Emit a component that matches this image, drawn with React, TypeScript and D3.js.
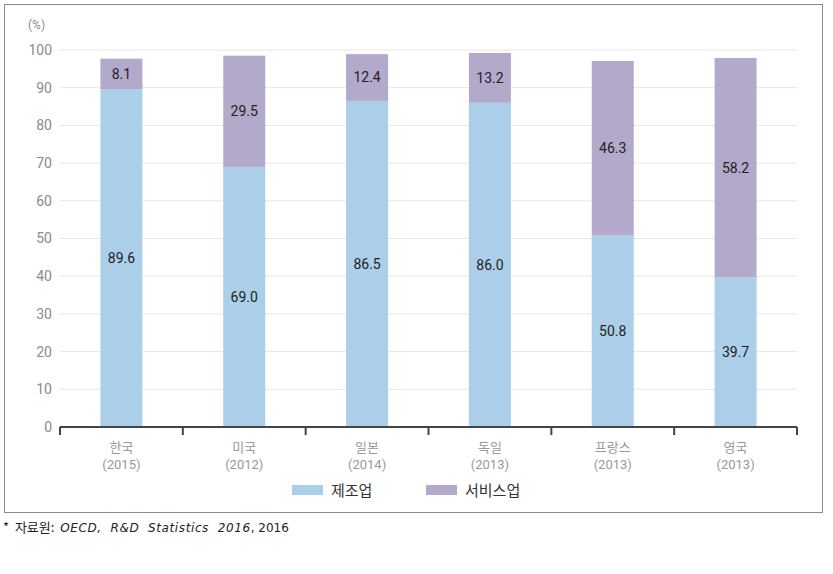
import React, { useEffect, useRef } from 'react';
import * as d3 from 'd3';

const countries = ['한국', '미국', '일본', '독일', '프랑스', '영국'];
const years = ['(2015)', '(2012)', '(2014)', '(2013)', '(2013)', '(2013)'];
const manufacturing = [89.6, 69.0, 86.5, 86.0, 50.8, 39.7];
const services = [8.1, 29.5, 12.4, 13.2, 46.3, 58.2];
const yTicks = [0, 10, 20, 30, 40, 50, 60, 70, 80, 90, 100];
const seriesNames = ['제조업', '서비스업'];

const W = 833;
const H = 574;
const BLUE = '#abcfe9';
const PURPLE = '#b2a9cb';
const KR = '"Noto Sans CJK KR", "Noto Sans", sans-serif';
const NUM = '"Liberation Sans Narrow", Roboto, "DejaVu Sans Condensed", sans-serif';

const App = () => {
  const svgRef = useRef<SVGSVGElement | null>(null);

  useEffect(() => {
    if (!svgRef.current) return;
    const svg = d3.select(svgRef.current);
    svg.selectAll('*').remove();

    // frame
    svg.append('rect')
      .attr('x', 4.5).attr('y', 4.5)
      .attr('width', 818).attr('height', 508)
      .attr('fill', '#fff').attr('stroke', '#8c8c8c').attr('stroke-width', 1);

    const left = 60;
    const right = 797;
    const x = d3.scaleBand().domain(countries).range([left, right]).paddingInner(0).paddingOuter(0);
    const y = d3.scaleLinear().domain([0, 100]).range([427, 50]);
    const barW = 42;

    // gridlines
    svg.append('g').selectAll('line')
      .data(yTicks.filter(t => t > 0))
      .join('line')
      .attr('x1', left).attr('x2', right)
      .attr('y1', d => y(d)).attr('y2', d => y(d))
      .attr('stroke', '#e6e6e6').attr('stroke-width', 1);

    // y tick labels
    svg.append('g').selectAll('text')
      .data(yTicks)
      .join('text')
      .attr('x', 52).attr('y', d => y(d))
      .attr('dy', '0.35em')
      .attr('text-anchor', 'end')
      .attr('font-family', NUM).attr('font-size', 14)
      .attr('fill', '#8a8a8a')
      .text(d => d);

    svg.append('text')
      .attr('x', 28).attr('y', 29)
      .attr('font-family', NUM).attr('font-size', 12)
      .attr('fill', '#8a8a8a')
      .text('(%)');

    const rows = countries.map((c, i) => ({ c, m: manufacturing[i], s: services[i] }));
    const cx = (c: string) => (x(c) as number) + x.bandwidth() / 2;

    const bars = svg.append('g');
    bars.selectAll('rect.m')
      .data(rows)
      .join('rect')
      .attr('class', 'm')
      .attr('x', d => cx(d.c) - barW / 2)
      .attr('width', barW)
      .attr('y', d => y(d.m))
      .attr('height', d => y(0) - y(d.m))
      .attr('fill', BLUE);
    bars.selectAll('rect.s')
      .data(rows)
      .join('rect')
      .attr('class', 's')
      .attr('x', d => cx(d.c) - barW / 2)
      .attr('width', barW)
      .attr('y', d => y(d.m + d.s))
      .attr('height', d => y(d.m) - y(d.m + d.s))
      .attr('fill', PURPLE);

    // value labels
    const labels = svg.append('g')
      .attr('font-family', NUM).attr('font-size', 14)
      .attr('fill', '#222').attr('text-anchor', 'middle');
    labels.selectAll('text.m')
      .data(rows)
      .join('text')
      .attr('class', 'm')
      .attr('x', d => cx(d.c))
      .attr('y', d => y(d.m / 2))
      .attr('dy', '0.35em')
      .text(d => d.m.toFixed(1));
    labels.selectAll('text.s')
      .data(rows)
      .join('text')
      .attr('class', 's')
      .attr('x', d => cx(d.c))
      .attr('y', d => y(d.m + d.s / 2))
      .attr('dy', '0.35em')
      .text(d => d.s.toFixed(1));

    // x axis
    const axis = svg.append('g').attr('stroke', '#444').attr('stroke-width', 2);
    axis.append('line')
      .attr('x1', left).attr('x2', right)
      .attr('y1', y(0)).attr('y2', y(0));
    const bounds = countries.map(c => x(c) as number).concat([right]);
    axis.selectAll('line.t')
      .data(bounds)
      .join('line')
      .attr('class', 't')
      .attr('x1', d => d).attr('x2', d => d)
      .attr('y1', y(0)).attr('y2', y(0) + 8);

    const xl = svg.append('g').attr('text-anchor', 'middle').attr('fill', '#999');
    xl.selectAll('text.c')
      .data(countries)
      .join('text')
      .attr('class', 'c')
      .attr('x', d => cx(d)).attr('y', 452)
      .attr('font-family', KR).attr('font-size', 13)
      .text(d => d);
    xl.selectAll('text.yr')
      .data(countries)
      .join('text')
      .attr('class', 'yr')
      .attr('x', d => cx(d)).attr('y', 469)
      .attr('font-family', NUM).attr('font-size', 13)
      .text((d, i) => years[i]);

    // legend
    const legX = [292, 426];
    const legColors = [BLUE, PURPLE];
    const leg = svg.append('g');
    seriesNames.forEach((name, i) => {
      leg.append('rect')
        .attr('x', legX[i]).attr('y', 485)
        .attr('width', 31).attr('height', 10)
        .attr('fill', legColors[i]);
      leg.append('text')
        .attr('x', legX[i] + 39).attr('y', 496)
        .attr('font-family', KR).attr('font-size', 15)
        .attr('fill', '#333')
        .text(name);
    });

    // source note
    const note = svg.append('text')
      .attr('x', 3).attr('y', 532)
      .attr('font-size', 13).attr('fill', '#222')
      .attr('font-family', KR)
      .style('white-space', 'pre');
    note.append('tspan').text('*  자료원:  ');
    note.append('tspan')
      .attr('font-family', '"DejaVu Sans", sans-serif')
      .attr('font-style', 'italic').attr('font-size', 12)
      .attr('letter-spacing', 0.6)
      .text('OECD,  R&D  Statistics  2016');
    note.append('tspan')
      .attr('font-family', '"DejaVu Sans", sans-serif').attr('font-size', 12)
      .text(', 2016');
  }, []);

  return (
    <svg ref={svgRef} width={W} height={H}
      style={{ position: 'absolute', left: 0, top: 0, background: '#fff' }} />
  );
};

export default App;
